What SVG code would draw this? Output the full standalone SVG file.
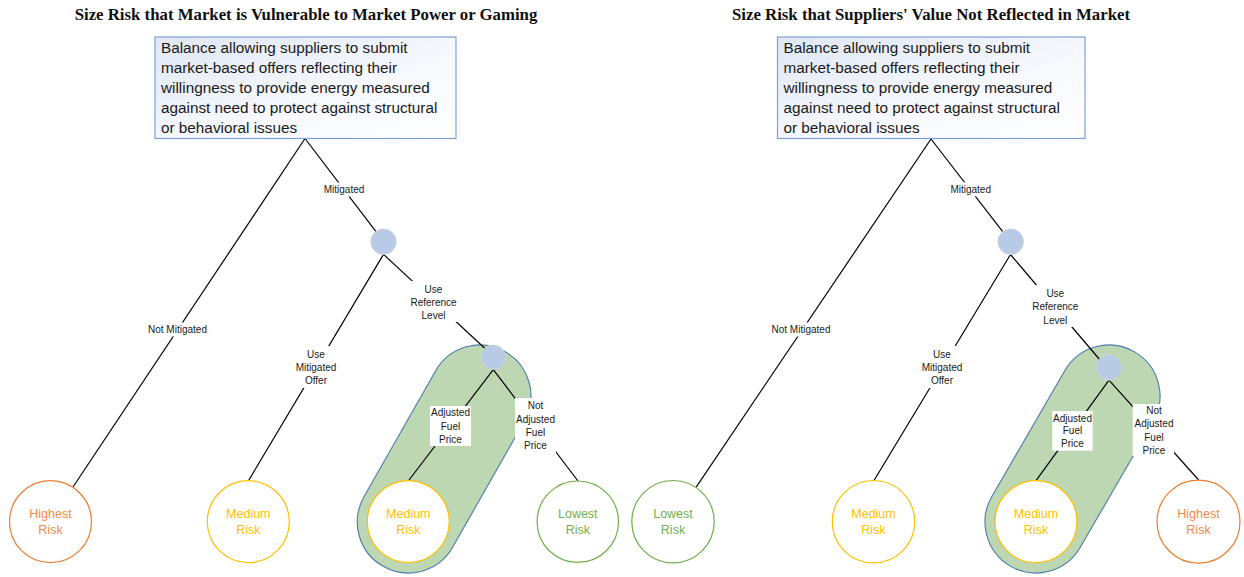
<svg xmlns="http://www.w3.org/2000/svg" width="1244" height="577" viewBox="0 0 1244 577">
  <defs>
    <linearGradient id="boxFill" x1="0" y1="0" x2="1" y2="1">
      <stop offset="0" stop-color="#dfe7f4"/>
      <stop offset="0.6" stop-color="#f7f9fd"/>
      <stop offset="1" stop-color="#ffffff"/>
    </linearGradient>
  </defs>
  <style>
    .title { font-family: "Liberation Serif", "Times New Roman", serif; font-weight: bold; font-size: 16.8px; fill: #111; text-anchor: middle; }
    .box { fill: url(#boxFill); stroke: #7aa3d4; stroke-width: 1.2; }
    .boxtext { font-family: "Liberation Sans", Arial, sans-serif; font-size: 15.3px; fill: #1a1a1a; }
    .edge { stroke: #000; stroke-width: 1.2; fill: none; }
    .lblbg { fill: #ffffff; }
    .lbl { font-family: "Liberation Sans", Arial, sans-serif; font-size: 10px; fill: #1a1a1a; text-anchor: middle; }
    .dec { fill: #b8cbe6; stroke: #cdd3dc; stroke-width: 1; }
    .leaf { fill: #ffffff; stroke-width: 1.2; }
    .leaftext { font-family: "Liberation Sans", Arial, sans-serif; font-size: 12.5px; text-anchor: middle; }
    .hi { stroke: #ed7d31; } .hiT { fill: #ef8a47; }
    .med { stroke: #ffc000; } .medT { fill: #ffc000; }
    .lo { stroke: #70ad47; } .loT { fill: #74b04c; }
    .band { fill: #bcd7b1; stroke: #4a7bb0; stroke-width: 1.1; }
  </style>
  <rect width="1244" height="577" fill="#ffffff"/>

  <!-- titles -->
  <text class="title" x="306" y="20">Size Risk that Market is Vulnerable to Market Power or Gaming</text>
  <text class="title" x="931" y="20">Size Risk that Suppliers' Value Not Reflected in Market</text>

  <!-- highlight bands around the reference-level / adjusted-fuel-price path -->
  <g id="band-left">
    <path class="band" d="M363.97,496.78 L435.67,370.78 A51,51 0 0 1 524.33,421.22 L452.63,547.22 A51,51 0 0 1 363.97,496.78 Z"/>
  </g>
  <g id="band-right">
    <path class="band" d="M991.87,496.43 L1064.87,370.43 A51,51 0 0 1 1153.13,421.57 L1080.13,547.57 A51,51 0 0 1 991.87,496.43 Z"/>
  </g>

  <!-- connectors with their labels -->
  <g id="connectors">
    <!-- left tree -->
    <line class="edge" x1="305" y1="138.5" x2="73" y2="487"/>
    <line class="edge" x1="305" y1="138.5" x2="376" y2="231.7"/>
    <line class="edge" x1="383.5" y1="254.4" x2="248.3" y2="481"/>
    <line class="edge" x1="383.5" y1="254.4" x2="485" y2="348.5"/>
    <line class="edge" x1="493.3" y1="369.6" x2="408.3" y2="481"/>
    <line class="edge" x1="493.3" y1="369.6" x2="578" y2="481"/>
    <!-- right tree -->
    <line class="edge" x1="931" y1="139" x2="696" y2="487.3"/>
    <line class="edge" x1="931" y1="139" x2="1002.7" y2="231.7"/>
    <line class="edge" x1="1010.5" y1="254.5" x2="874" y2="480.5"/>
    <line class="edge" x1="1010.5" y1="254.5" x2="1100" y2="360"/>
    <line class="edge" x1="1109" y1="380.2" x2="1036" y2="480.7"/>
    <line class="edge" x1="1109" y1="380.2" x2="1198.7" y2="480"/>

    <!-- label backgrounds -->
    <rect class="lblbg" x="146" y="322.5" width="63" height="14"/>
    <rect class="lblbg" x="320" y="182.5" width="48" height="14"/>
    <rect class="lblbg" x="291" y="346" width="50" height="42"/>
    <rect class="lblbg" x="408" y="281" width="51" height="41"/>
    <rect class="lblbg" x="430" y="406" width="41" height="40"/>
    <rect class="lblbg" x="515" y="398" width="41" height="55"/>

    <rect class="lblbg" x="769.5" y="322.5" width="63" height="14"/>
    <rect class="lblbg" x="946.7" y="182.3" width="48" height="14"/>
    <rect class="lblbg" x="917" y="346" width="50" height="42"/>
    <rect class="lblbg" x="1030" y="285" width="51" height="42"/>
    <rect class="lblbg" x="1052.3" y="411" width="40.4" height="39.7"/>
    <rect class="lblbg" x="1132.7" y="404" width="41.3" height="52"/>

    <!-- label texts -->
    <text class="lbl" x="177.5" y="333">Not Mitigated</text>
    <text class="lbl" x="344" y="193">Mitigated</text>
    <text class="lbl" x="316" y="357.6">Use</text>
    <text class="lbl" x="316" y="371">Mitigated</text>
    <text class="lbl" x="316" y="384.4">Offer</text>
    <text class="lbl" x="433.5" y="292.6">Use</text>
    <text class="lbl" x="433.5" y="305.6">Reference</text>
    <text class="lbl" x="433.5" y="318.8">Level</text>
    <text class="lbl" x="450.5" y="415.9">Adjusted</text>
    <text class="lbl" x="450.5" y="429.5">Fuel</text>
    <text class="lbl" x="450.5" y="442.9">Price</text>
    <text class="lbl" x="535.5" y="409.3">Not</text>
    <text class="lbl" x="535.5" y="422.6">Adjusted</text>
    <text class="lbl" x="535.5" y="435.9">Fuel</text>
    <text class="lbl" x="535.5" y="449.3">Price</text>

    <text class="lbl" x="801" y="332.9">Not Mitigated</text>
    <text class="lbl" x="970.7" y="192.9">Mitigated</text>
    <text class="lbl" x="942" y="357.6">Use</text>
    <text class="lbl" x="942" y="371.1">Mitigated</text>
    <text class="lbl" x="942" y="384.3">Offer</text>
    <text class="lbl" x="1055.3" y="296.9">Use</text>
    <text class="lbl" x="1055.3" y="310">Reference</text>
    <text class="lbl" x="1055.3" y="323.6">Level</text>
    <text class="lbl" x="1072.5" y="421.9">Adjusted</text>
    <text class="lbl" x="1072.5" y="434.3">Fuel</text>
    <text class="lbl" x="1072.5" y="446.9">Price</text>
    <text class="lbl" x="1154" y="413.6">Not</text>
    <text class="lbl" x="1154" y="427.2">Adjusted</text>
    <text class="lbl" x="1154" y="440.6">Fuel</text>
    <text class="lbl" x="1154" y="453.6">Price</text>
  </g>

  <!-- left tree nodes -->
  <g id="goal-left">
    <rect class="box" x="155" y="37" width="301" height="101.5"/>
    <text class="boxtext" x="161" y="53.3">Balance allowing suppliers to submit</text>
    <text class="boxtext" x="161" y="73.1">market-based offers reflecting their</text>
    <text class="boxtext" x="161" y="92.9">willingness to provide energy measured</text>
    <text class="boxtext" x="161" y="112.7">against need to protect against structural</text>
    <text class="boxtext" x="161" y="132.5">or behavioral issues</text>
  </g>
  <g id="decision-mitigation-left"><circle class="dec" cx="383.5" cy="241.7" r="12.7"/></g>
  <g id="decision-reference-left"><circle class="dec" cx="493.3" cy="357.3" r="12.3"/></g>
  <g id="leaf-left-highest">
    <circle class="leaf hi" cx="50.5" cy="521.7" r="41"/>
    <text class="leaftext hiT" x="50.5" y="518">Highest</text>
    <text class="leaftext hiT" x="50.5" y="534">Risk</text>
  </g>
  <g id="leaf-left-medium-offer">
    <circle class="leaf med" cx="248.3" cy="521.7" r="41"/>
    <text class="leaftext medT" x="248.3" y="518">Medium</text>
    <text class="leaftext medT" x="248.3" y="534">Risk</text>
  </g>
  <g id="leaf-left-medium-fuel">
    <circle class="leaf med" cx="408.3" cy="521.7" r="41"/>
    <text class="leaftext medT" x="408.3" y="518">Medium</text>
    <text class="leaftext medT" x="408.3" y="534">Risk</text>
  </g>
  <g id="leaf-left-lowest">
    <circle class="leaf lo" cx="577.8" cy="521.7" r="40.7"/>
    <text class="leaftext loT" x="577.8" y="518">Lowest</text>
    <text class="leaftext loT" x="577.8" y="534">Risk</text>
  </g>

  <!-- right tree nodes -->
  <g id="goal-right">
    <rect class="box" x="777.5" y="37" width="307.5" height="101.5"/>
    <text class="boxtext" x="783.5" y="53.3">Balance allowing suppliers to submit</text>
    <text class="boxtext" x="783.5" y="73.1">market-based offers reflecting their</text>
    <text class="boxtext" x="783.5" y="92.9">willingness to provide energy measured</text>
    <text class="boxtext" x="783.5" y="112.7">against need to protect against structural</text>
    <text class="boxtext" x="783.5" y="132.5">or behavioral issues</text>
  </g>
  <g id="decision-mitigation-right"><circle class="dec" cx="1010.7" cy="241.7" r="12.8"/></g>
  <g id="decision-reference-right"><circle class="dec" cx="1109" cy="367.5" r="12.7"/></g>
  <g id="leaf-right-lowest">
    <circle class="leaf lo" cx="673" cy="521.7" r="41.2"/>
    <text class="leaftext loT" x="673" y="518">Lowest</text>
    <text class="leaftext loT" x="673" y="534">Risk</text>
  </g>
  <g id="leaf-right-medium-offer">
    <circle class="leaf med" cx="873.5" cy="521.7" r="41.2"/>
    <text class="leaftext medT" x="873.5" y="518">Medium</text>
    <text class="leaftext medT" x="873.5" y="534">Risk</text>
  </g>
  <g id="leaf-right-medium-fuel">
    <circle class="leaf med" cx="1036" cy="521.7" r="41"/>
    <text class="leaftext medT" x="1036" y="518">Medium</text>
    <text class="leaftext medT" x="1036" y="534">Risk</text>
  </g>
  <g id="leaf-right-highest">
    <circle class="leaf hi" cx="1198.5" cy="521.7" r="41.5"/>
    <text class="leaftext hiT" x="1198.5" y="518">Highest</text>
    <text class="leaftext hiT" x="1198.5" y="534">Risk</text>
  </g>
</svg>
